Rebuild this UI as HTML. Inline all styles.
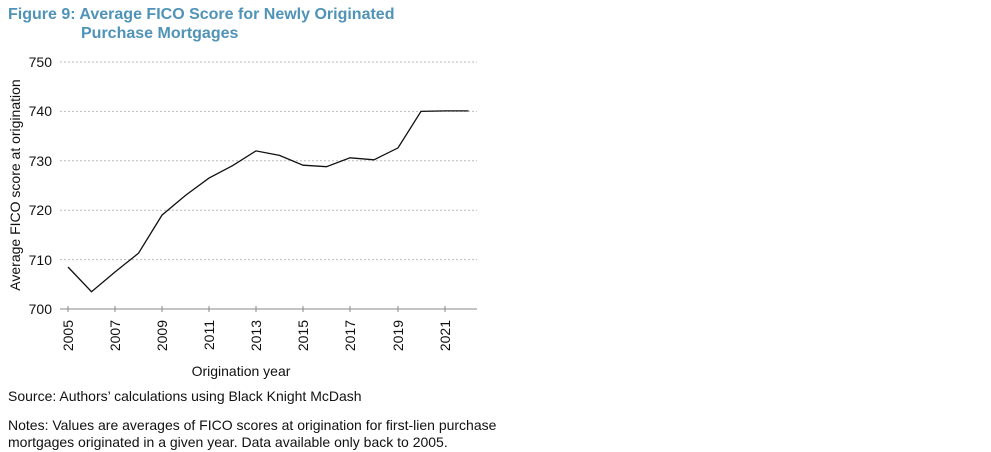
<!DOCTYPE html>
<html><head><style>
body{margin:0;width:991px;height:452px;background:#fff;overflow:hidden;font-family:"Liberation Sans",Arial,sans-serif}
svg{position:absolute;left:0;top:0}
</style></head><body>
<svg width="991" height="452" viewBox="0 0 991 452" font-family="Liberation Sans, Arial, sans-serif">
<text x="8" y="19" font-size="16" font-weight="bold" fill="#4f93b8">Figure 9: Average FICO Score for Newly Originated</text>
<text x="81" y="38" font-size="16" font-weight="bold" fill="#4f93b8">Purchase Mortgages</text>
<g stroke="#bbb" stroke-dasharray="2,2" stroke-width="1">
<line x1="60" x2="477" y1="62" y2="62"/>
<line x1="60" x2="477" y1="111.4" y2="111.4"/>
<line x1="60" x2="477" y1="160.8" y2="160.8"/>
<line x1="60" x2="477" y1="210.2" y2="210.2"/>
<line x1="60" x2="477" y1="259.6" y2="259.6"/>
</g>
<line x1="60" x2="477" y1="309" y2="309" stroke="#888" stroke-width="1"/>
<g stroke="#888">
<line x1="68" x2="68" y1="306" y2="312"/><line x1="115" x2="115" y1="306" y2="312"/><line x1="162" x2="162" y1="306" y2="312"/><line x1="209" x2="209" y1="306" y2="312"/><line x1="256" x2="256" y1="306" y2="312"/><line x1="303" x2="303" y1="306" y2="312"/><line x1="350" x2="350" y1="306" y2="312"/><line x1="398" x2="398" y1="306" y2="312"/><line x1="445" x2="445" y1="306" y2="312"/>
</g>
<g font-size="14" fill="#111" text-anchor="end">
<text x="52" y="67">750</text><text x="52" y="116">740</text><text x="52" y="166">730</text><text x="52" y="215">720</text><text x="52" y="265">710</text><text x="52" y="314">700</text>
</g>
<g font-size="14" fill="#111" text-anchor="end">
<text transform="translate(73,320) rotate(-90)">2005</text>
<text transform="translate(120,320) rotate(-90)">2007</text>
<text transform="translate(167,320) rotate(-90)">2009</text>
<text transform="translate(214,320) rotate(-90)">2011</text>
<text transform="translate(261,320) rotate(-90)">2013</text>
<text transform="translate(308,320) rotate(-90)">2015</text>
<text transform="translate(355,320) rotate(-90)">2017</text>
<text transform="translate(403,320) rotate(-90)">2019</text>
<text transform="translate(450,320) rotate(-90)">2021</text>
</g>
<text transform="translate(20,185) rotate(-90)" font-size="14" fill="#111" text-anchor="middle">Average FICO score at origination</text>
<text x="241" y="376" font-size="14" fill="#111" text-anchor="middle">Origination year</text>
<polyline fill="none" stroke="#111" stroke-width="1.3" points="68,267 91.5,291.7 115,272 138.5,253.2 162,215.1 185.5,195.4 209,178.1 232.5,165.7 256,150.9 279.5,155.4 303,165.2 326.5,166.7 350,157.8 374,159.8 398,147.9 421,111.4 445,110.9 468.5,110.9"/>
<text x="8" y="401" font-size="14" fill="#111">Source: Authors’ calculations using Black Knight McDash</text>
<text x="8" y="430" font-size="14" fill="#111">Notes: Values are averages of FICO scores at origination for first-lien purchase</text>
<text x="8" y="447" font-size="14" fill="#111">mortgages originated in a given year. Data available only back to 2005.</text>
</svg>
</body></html>
